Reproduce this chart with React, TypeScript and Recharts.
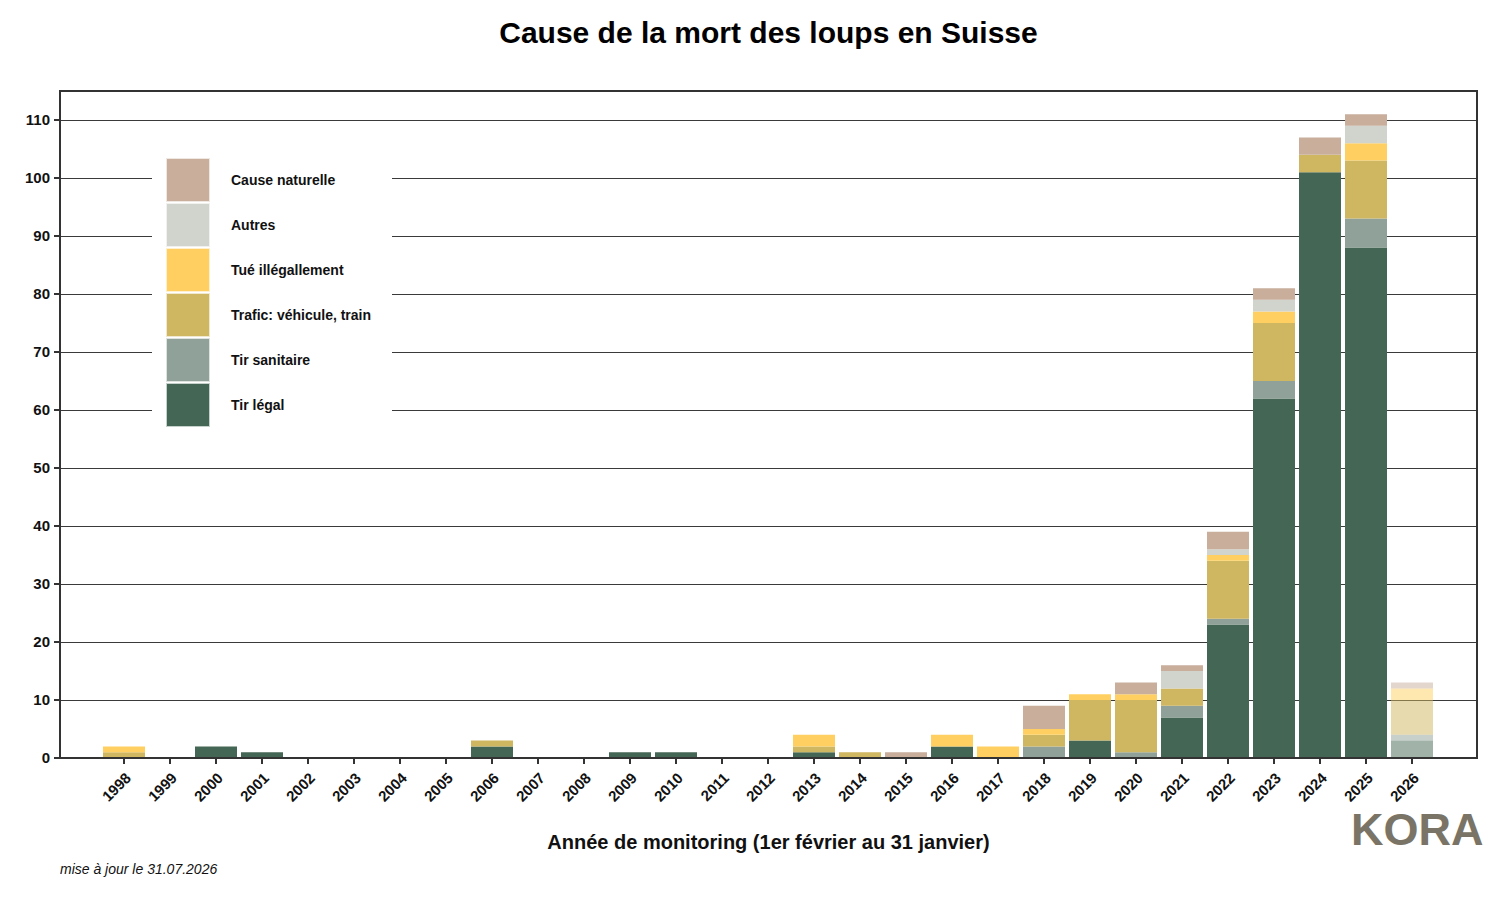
import React from "react";
import {
  BarChart,
  Bar,
  Cell,
  XAxis,
  YAxis,
  CartesianGrid,
  Legend,
} from "recharts";

const years = [
  "1998", "1999", "2000", "2001", "2002", "2003", "2004", "2005", "2006", "2007",
  "2008", "2009", "2010", "2011", "2012", "2013", "2014", "2015", "2016", "2017",
  "2018", "2019", "2020", "2021", "2022", "2023", "2024", "2025", "2026",
];

// 1998 .. 2026
const tirLegal = [0, 0, 2, 1, 0, 0, 0, 0, 2, 0, 0, 1, 1, 0, 0, 1, 0, 0, 2, 0, 0, 3, 0, 7, 23, 62, 101, 88, 3];
const tirSanitaire = [0, 0, 0, 0, 0, 0, 0, 0, 0, 0, 0, 0, 0, 0, 0, 0, 0, 0, 0, 0, 2, 0, 1, 2, 1, 3, 0, 5, 1];
const trafic = [1, 0, 0, 0, 0, 0, 0, 0, 1, 0, 0, 0, 0, 0, 0, 1, 1, 0, 0, 0, 2, 7, 9, 3, 10, 10, 3, 10, 6];
const tueIllegalement = [1, 0, 0, 0, 0, 0, 0, 0, 0, 0, 0, 0, 0, 0, 0, 2, 0, 0, 2, 2, 1, 1, 1, 0, 1, 2, 0, 3, 2];
const autres = [0, 0, 0, 0, 0, 0, 0, 0, 0, 0, 0, 0, 0, 0, 0, 0, 0, 0, 0, 0, 0, 0, 0, 3, 1, 2, 0, 3, 0];
const causeNaturelle = [0, 0, 0, 0, 0, 0, 0, 0, 0, 0, 0, 0, 0, 0, 0, 0, 0, 1, 0, 0, 4, 0, 2, 1, 3, 2, 3, 2, 1];

const yTicks = [0, 10, 20, 30, 40, 50, 60, 70, 80, 90, 100, 110];
const partialYear = "2026";

const data = years.map((year, i) => ({
  year,
  tirLegal: tirLegal[i],
  tirSanitaire: tirSanitaire[i],
  trafic: trafic[i],
  tueIllegalement: tueIllegalement[i],
  autres: autres[i],
  causeNaturelle: causeNaturelle[i],
}));

// bottom to top
const series = [
  { key: "tirLegal", name: "Tir légal", color: "#446654" },
  { key: "tirSanitaire", name: "Tir sanitaire", color: "#8fa198" },
  { key: "trafic", name: "Trafic: véhicule, train", color: "#cfb660" },
  { key: "tueIllegalement", name: "Tué illégallement", color: "#ffd061" },
  { key: "autres", name: "Autres", color: "#d1d4cd" },
  { key: "causeNaturelle", name: "Cause naturelle", color: "#c8ae9b" },
];

const FONT = '"Liberation Sans", Arial, sans-serif';

const YearTick = (props: any) => {
  const { x, y, payload } = props;
  const px = x + 8;
  const py = y + 15;
  return (
    <text
      x={px}
      y={py}
      transform={`rotate(-45, ${px}, ${py})`}
      textAnchor="end"
      fontSize={15}
      fontWeight="bold"
      fill="#111"
      fontFamily={FONT}
    >
      {payload.value}
    </text>
  );
};

const LegendBox = () => (
  <div style={{ paddingTop: 7, paddingLeft: 14 }}>
    {[...series].reverse().map((s) => (
      <div key={s.key} style={{ display: "flex", alignItems: "center", height: 45 }}>
        <div
          style={{
            width: 44,
            height: 44,
            background: s.color,
            boxSizing: "border-box",
            border: "1px solid rgba(255,255,255,0.7)",
          }}
        />
        <span
          style={{
            marginLeft: 21,
            fontSize: 14,
            fontWeight: "bold",
            color: "#111",
            fontFamily: FONT,
          }}
        >
          {s.name}
        </span>
      </div>
    ))}
  </div>
);

export default function App() {
  return (
    <div
      style={{
        position: "absolute",
        left: 0,
        top: 0,
        width: 1500,
        height: 900,
        background: "#fff",
        fontFamily: FONT,
      }}
    >
      <div
        style={{
          position: "absolute",
          left: 60,
          width: 1417,
          top: 16,
          lineHeight: "34px",
          textAlign: "center",
          fontSize: 30,
          fontWeight: "bold",
          color: "#000",
        }}
      >
        Cause de la mort des loups en Suisse
      </div>

      <BarChart
        width={1500}
        height={900}
        data={data}
        margin={{ top: 91, right: 23, left: 0, bottom: 82 }}
        barSize={42}
      >
        <CartesianGrid
          horizontal
          vertical={false}
          stroke="#3a3a3a"
          strokeWidth={1}
          shapeRendering="crispEdges"
        />
        <XAxis
          dataKey="year"
          height={60}
          interval={0}
          padding={{ left: 41, right: 42 }}
          axisLine={{ stroke: "#333", strokeWidth: 2 }}
          tickLine={{ stroke: "#333", strokeWidth: 2 }}
          tickSize={6}
          tickMargin={0}
          tick={<YearTick />}
        />
        <YAxis
          width={60}
          domain={[0, 115]}
          ticks={yTicks}
          interval={0}
          axisLine={{ stroke: "#333", strokeWidth: 2 }}
          tickLine={{ stroke: "#333", strokeWidth: 2 }}
          tickSize={6}
          tickMargin={4}
          tick={{ fontSize: 15, fontWeight: "bold", fill: "#111", fontFamily: FONT }}
        />
        <Legend
          layout="horizontal"
          verticalAlign="middle"
          align="center"
          content={<LegendBox />}
          wrapperStyle={{ left: 152, top: 150, width: 240, height: 282, background: "#fff" }}
        />
        {series.map((s) => (
          <Bar
            key={s.key}
            dataKey={s.key}
            name={s.name}
            stackId="a"
            fill={s.color}
            isAnimationActive={false}
          >
            {data.map((d) => (
              <Cell
                key={d.year}
                fill={s.color}
                fillOpacity={d.year === partialYear ? 0.5 : 1}
              />
            ))}
          </Bar>
        ))}
      </BarChart>

      {/* plot frame */}
      <div
        style={{
          position: "absolute",
          left: 59,
          top: 90,
          width: 1419,
          height: 669,
          border: "2px solid #333",
          boxSizing: "border-box",
          pointerEvents: "none",
        }}
      />

      <div
        style={{
          position: "absolute",
          left: 60,
          width: 1417,
          top: 829,
          lineHeight: "26px",
          textAlign: "center",
          fontSize: 20,
          fontWeight: "bold",
          color: "#111",
        }}
      >
        Année de monitoring (1er février au 31 janvier)
      </div>
      <div
        style={{
          position: "absolute",
          left: 60,
          top: 861,
          lineHeight: "16px",
          fontSize: 14,
          fontStyle: "italic",
          color: "#111",
        }}
      >
        mise à jour le 31.07.2026
      </div>
      <div
        style={{
          position: "absolute",
          left: 1351,
          top: 806,
          lineHeight: "48px",
          fontSize: 45,
          fontWeight: "bold",
          color: "#7a7466",
        }}
      >
        KORA
      </div>
    </div>
  );
}
